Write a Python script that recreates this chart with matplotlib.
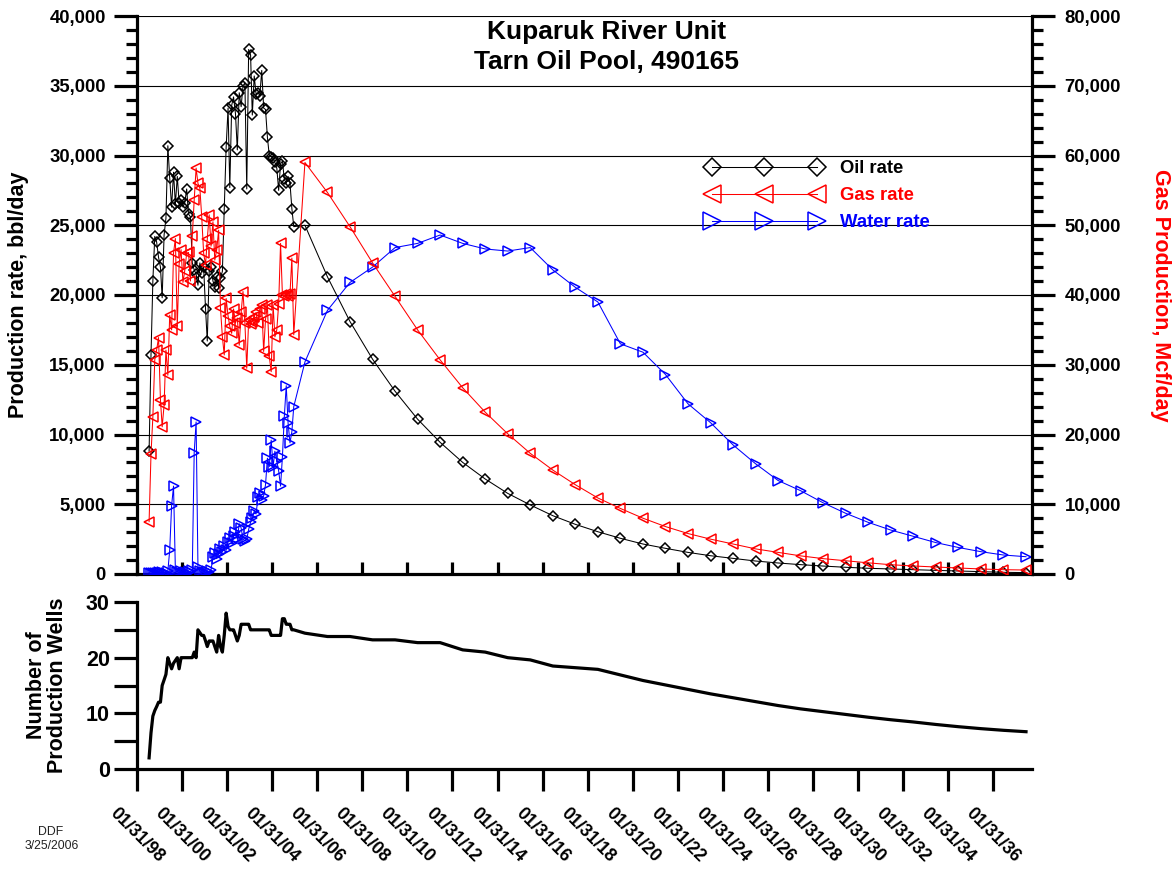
import datetime as dt

import matplotlib
matplotlib.use("Agg")
import matplotlib.pyplot as plt
import matplotlib.dates as mdates
from matplotlib.ticker import MultipleLocator, FuncFormatter

plt.rcParams['font.family'] = ['Liberation Sans', 'DejaVu Sans']
plt.rcParams['font.weight'] = 'bold'

# ---------------------------------------------------------------- data
# Monthly history, Aug 1998 .. Jan 2005
oil_hist = [
    8800, 15700, 21000, 24200, 23800, 22700, 22000, 19800, 24300, 25500,
    30700, 28400, 26300, 28800, 26500, 28500, 26600, 26800, 26300, 26600,
    27600, 25800, 25600, 22300, 21800, 21500, 20700, 22300, 21600, 22000,
    19000, 16700, 21700, 22000, 21000, 20600, 21300, 20500, 21200, 21700,
    26150, 30600, 33400, 27700, 33600, 34200, 33000, 30400, 34500, 33500,
    35000, 35200, 27600, 37600, 37200, 32900, 35700, 34400, 34500, 34300,
    36100, 33400, 33300, 31300, 30000, 29900, 29800, 29500, 29100, 27500,
    29400, 29600, 28300, 28000, 28500, 28000, 26200, 24900,
]
gas_hist = [
    7500, 17200, 22500, 30700, 32100, 33900, 25000, 21100, 24200, 32100,
    28500, 37100, 35000, 46000, 48100, 35500, 44500, 46500, 41800, 43500,
    46000, 46100, 42000, 48400, 53600, 58200, 56000, 55300, 51200, 46000,
    44300, 48000, 51500, 47000, 50500, 45000, 46500, 49300, 38100, 34000,
    31400, 39500, 37000, 35500, 34500, 38000, 36000, 36700, 32800, 37500,
    40500, 36000, 29500, 36400, 35800, 36200, 36900, 37500, 36000, 38000,
    38600, 31900, 36500, 38500, 31200, 29000, 38600, 34000, 35000, 38700,
    47400, 40000, 39800, 40200, 39900, 40200, 45300, 34300,
]
water_hist = [
    100, 50, 80, 60, 100, 120, 80, 150, 100, 60,
    200, 1700, 4900, 6300, 300, 150, 100, 200, 100, 150,
    100, 200, 150, 300, 8700, 10900, 500, 200, 100, 150,
    100, 200, 150, 300, 1200, 1500, 1100, 1400, 1800, 1600,
    2000, 1700, 2300, 2600, 2200, 2700, 3000, 2500, 3600, 3300,
    2500, 2400, 2500, 3200, 3700, 4000, 4500, 4300, 5500, 5800,
    5300, 5600, 6400, 8300, 7700, 9600, 7700, 8800, 8100, 7400,
    6300, 8400, 11300, 13500, 10800, 9400, 10200, 12000,
]
wells_hist = [
    2, 6.5, 9.5, 10.5, 11.2, 12, 12, 15, 16, 17,
    20, 19, 18, 19, 19.5, 20, 18, 20, 20, 20,
    20, 20, 20, 20, 21, 20, 25, 24.5, 24, 24,
    23, 22, 23, 23, 23, 22, 21, 24, 22, 21,
    24, 28, 25.6, 25, 25, 25, 24, 23, 24, 26,
    26, 26, 26, 26, 25, 25, 25, 25, 25, 25,
    25, 25, 25, 25, 25, 24, 24, 24, 24, 24,
    24, 27, 27, 26, 26, 26, 25, 25,
]

# Annual forecast, mid-2005 .. mid-2037
forecast_years = list(range(2005, 2038))
oil_fc = [
    25000, 21300, 18100, 15400, 13100, 11100, 9440, 8000, 6810, 5780,
    4950, 4180, 3560, 3030, 2560, 2150, 1840, 1550, 1310, 1120,
    930, 790, 670, 570, 480, 410, 360, 310, 260, 215,
    170, 120, 100,
]
gas_fc = [
    59000, 54700, 49800, 44600, 39800, 35000, 30700, 26700, 23200, 20100,
    17300, 14900, 12800, 10900, 9400, 8000, 6800, 5800, 5000, 4300,
    3600, 3100, 2600, 2200, 1900, 1600, 1330, 1150, 1000, 860,
    720, 620, 570,
]
water_fc = [
    15200, 18900, 20900, 22000, 23400, 23700, 24300, 23700, 23300, 23150,
    23400, 21800, 20550, 19500, 16500, 15900, 14300, 12200, 10850, 9250,
    7900, 6700, 5970, 5100, 4350, 3700, 3150, 2700, 2250, 1900,
    1600, 1360, 1240,
]
wells_fc = [
    24.4, 23.8, 23.8, 23.2, 23.2, 22.7, 22.7, 21.4, 21.0, 20.0,
    19.6, 18.5, 18.2, 17.9, 16.9, 15.9, 15.1, 14.3, 13.5, 12.8,
    12.1, 11.4, 10.8, 10.3, 9.8, 9.3, 8.85, 8.45, 8.0, 7.6,
    7.25, 6.95, 6.7,
]

tick_years = list(range(1998, 2037, 2))

# ---------------------------------------------------------------- dates
hist_dates = [dt.date(1998 + (7 + i) // 12, (7 + i) % 12 + 1, 15)
              for i in range(len(oil_hist))]
fc_dates = [dt.date(y, 7, 15) for y in forecast_years]
dates = mdates.date2num(hist_dates + fc_dates)

oil = oil_hist + oil_fc
gas = gas_hist + gas_fc
water = water_hist + water_fc
wells = wells_hist + wells_fc

tick_dates = [dt.date(y, 1, 31) for y in tick_years]
tick_pos = mdates.date2num(tick_dates)
tick_labels = [d.strftime('%m/%d/%y') for d in tick_dates]
xmin = mdates.date2num(dt.date(1998, 1, 31))
xmax = mdates.date2num(dt.date(2037, 10, 20))

W, H = 1176, 869
fig = plt.figure(figsize=(W / 100, H / 100), dpi=100)

L, R = 137, 1032
ax = fig.add_axes([L / W, 1 - 574 / H, (R - L) / W, 558 / H])
axg = ax.twinx()
axw = fig.add_axes([L / W, 1 - 769 / H, (R - L) / W, 167 / H])

SPINE = 2.3
comma = FuncFormatter(lambda v, p: f'{v:,.0f}')

# ---------------------------------------------------------------- rates panel
ax.plot(dates, oil, color='black', lw=0.75, marker='D', ms=4.6,
        mfc='none', mec='black', mew=1.1, label='Oil rate', zorder=3)
ax.plot(dates, water, color='blue', lw=0.75, marker='>', ms=6.5,
        mfc='none', mec='blue', mew=1.1, label='Water rate', zorder=3)
axg.plot(dates, gas, color='red', lw=0.75, marker='<', ms=6.5,
         mfc='none', mec='red', mew=1.1, label='Gas rate', zorder=3)

ax.set_xlim(xmin, xmax)
ax.set_ylim(0, 40000)
axg.set_ylim(0, 80000)

ax.yaxis.set_major_locator(MultipleLocator(5000))
ax.yaxis.set_minor_locator(MultipleLocator(1000))
ax.yaxis.set_major_formatter(comma)
axg.yaxis.set_major_locator(MultipleLocator(10000))
axg.yaxis.set_minor_locator(MultipleLocator(2000))
axg.yaxis.set_major_formatter(comma)

ax.set_xticks(tick_pos)
ax.tick_params(axis='x', direction='in', length=8.5, width=SPINE,
               labelbottom=False, top=False)
ax.tick_params(axis='y', which='major', direction='out', length=16.5,
               width=SPINE, labelsize=13.3, pad=6)
ax.tick_params(axis='y', which='minor', direction='out', length=8,
               width=SPINE)
axg.tick_params(axis='y', which='major', direction='out', length=16.5,
                width=SPINE, labelsize=13.3, pad=7)
axg.tick_params(axis='y', which='minor', direction='out', length=8,
                width=SPINE)
axg.tick_params(axis='x', which='both', bottom=False, top=False,
                labelbottom=False, labeltop=False)

ax.yaxis.grid(True, which='major', color='black', lw=0.8)
ax.set_axisbelow(True)

ax.spines['top'].set_visible(False)
ax.spines['right'].set_visible(False)
for s in ('left', 'bottom'):
    ax.spines[s].set_linewidth(SPINE)
for s in ('top', 'left', 'bottom'):
    axg.spines[s].set_visible(False)
axg.spines['right'].set_linewidth(SPINE)

h_oil = ax.get_lines()[0]
h_water = ax.get_lines()[1]
h_gas = axg.get_lines()[0]
axg.legend([h_oil, h_gas, h_water], ['Oil rate', 'Gas rate', 'Water rate'],
           loc='upper left', bbox_to_anchor=(706 / W, 1 - 160 / H),
           bbox_transform=fig.transFigure, frameon=False, numpoints=3,
           markerscale=2.0, handlelength=6.3, handletextpad=0.95,
           labelspacing=0.55, borderpad=0, borderaxespad=0,
           prop={'weight': 'bold', 'size': 13.3}, labelcolor='linecolor')

# ---------------------------------------------------------------- wells panel
axw.plot(dates, wells, color='black', lw=2.3, solid_joinstyle='round')
axw.set_xlim(xmin, xmax)
axw.set_ylim(0, 30)
axw.yaxis.set_major_locator(MultipleLocator(10))
axw.yaxis.set_minor_locator(MultipleLocator(5))
axw.tick_params(axis='y', which='both', direction='out', length=16.5,
                width=SPINE, labelsize=15.5, pad=3)
axw.set_xticks(tick_pos)
axw.set_xticklabels(tick_labels, rotation=-45, ha='center', va='top',
                    fontsize=12.8, fontweight='bold')
axw.tick_params(axis='x', direction='out', length=16, width=SPINE, pad=10)
for s in ('top', 'right'):
    axw.spines[s].set_visible(False)
for s in ('left', 'bottom'):
    axw.spines[s].set_linewidth(SPINE)

# ---------------------------------------------------------------- text
fig.text(607 / W, 1 - 32 / H, 'Kuparuk River Unit', ha='center', va='center',
         fontsize=19, fontweight='bold')
fig.text(607 / W, 1 - 62 / H, 'Tarn Oil Pool, 490165', ha='center',
         va='center', fontsize=19, fontweight='bold')
fig.text(19 / W, 1 - 295 / H, 'Production rate, bbl/day', rotation=90,
         ha='center', va='center', fontsize=15.5, fontweight='bold')
fig.text(1160 / W, 1 - 295 / H, 'Gas Production, Mcf/day', rotation=270,
         ha='center', va='center', fontsize=15.5, fontweight='bold',
         color='red')
fig.text(47 / W, 1 - 685 / H, 'Number of\nProduction Wells', rotation=90,
         ha='center', va='center', fontsize=15.5, fontweight='bold',
         linespacing=1.0, multialignment='center')
fig.text(51 / W, 1 - 832 / H, 'DDF', ha='center', va='center', fontsize=8.8,
         fontweight='normal', color='#222222')
fig.text(52 / W, 1 - 846 / H, '3/25/2006', ha='center', va='center',
         fontsize=8.8, fontweight='normal', color='#222222')

fig.savefig('out.png', dpi=100)
